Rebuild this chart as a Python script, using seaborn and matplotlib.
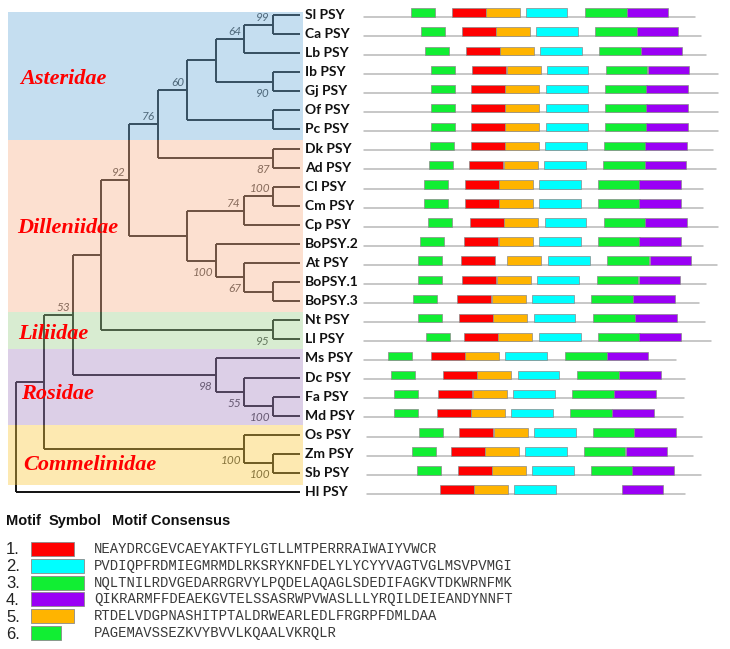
import numpy as np
import matplotlib
matplotlib.use("Agg")
import matplotlib.pyplot as plt
import seaborn as sns
from matplotlib.colors import to_rgb

sns.set_theme(style="white")
plt.rcParams['font.family'] = ['DejaVu Sans']

# ---------------- data ----------------
leaves = ["Sl PSY", "Ca PSY", "Lb PSY", "Ib PSY", "Gj PSY", "Of PSY", "Pc PSY",
          "Dk PSY", "Ad PSY", "Cl PSY", "Cm PSY", "Cp PSY", "BoPSY.2", "At PSY",
          "BoPSY.1", "BoPSY.3", "Nt PSY", "Ll PSY", "Ms PSY", "Dc PSY", "Fa PSY",
          "Md PSY", "Os PSY", "Zm PSY", "Sb PSY", "Hl PSY"]

# internal nodes: name, children, node depth (tree x), bootstrap
node_names = ["SlCa", "n64", "IbGj", "A1", "OfPc", "n60", "DkAd", "n76",
              "ClCm", "n74", "Bo13", "n67", "n100b", "D", "n92", "NtLl", "L",
              "FaMd", "n55", "n98", "n53", "ZmSb", "nOs", "C", "root"]
node_children = [["Sl PSY", "Ca PSY"], ["SlCa", "Lb PSY"], ["Ib PSY", "Gj PSY"],
                 ["n64", "IbGj"], ["Of PSY", "Pc PSY"], ["A1", "OfPc"],
                 ["Dk PSY", "Ad PSY"], ["n60", "DkAd"], ["Cl PSY", "Cm PSY"],
                 ["ClCm", "Cp PSY"], ["BoPSY.1", "BoPSY.3"], ["At PSY", "Bo13"],
                 ["BoPSY.2", "n67"], ["n74", "n100b"], ["n76", "D"],
                 ["Nt PSY", "Ll PSY"], ["n92", "NtLl"], ["Fa PSY", "Md PSY"],
                 ["Dc PSY", "FaMd"], ["Ms PSY", "n55"], ["L", "n98"],
                 ["Zm PSY", "Sb PSY"], ["Os PSY", "ZmSb"], ["n53", "nOs"],
                 ["C", "Hl PSY"]]
node_depth = [273, 244, 273, 216, 273, 187, 273, 158, 273, 244, 273, 244, 216,
              187, 129, 273, 101, 273, 244, 216, 73, 273, 244, 44, 16]
node_boot = [99, 64, 90, None, None, 60, 87, 76, 100, 74, None, 67, 100, None,
             92, 95, None, 100, 55, 98, 53, 100, 100, None, None]
boot_below = {"IbGj", "DkAd", "n100b", "n67", "NtLl", "n98", "n55", "FaMd",
              "nOs", "ZmSb"}
leaf_depth = 300

clade_names = ["Asteridae", "Dilleniidae", "Liliidae", "Rosidae", "Commelinidae"]
clade_colors = ["#c5def0", "#fce0d0", "#d8ecd2", "#dccfe8", "#fdeab2"]

# motif consensus sequences (1..6)
consensus = ["NEAYDRCGEVCAEYAKTFYLGTLLMTPERRRAIWAIYVWCR",
             "PVDIQPFRDMIEGMRMDLRKSRYKNFDELYLYCYYVAGTVGLMSVPVMGI",
             "NQLTNILRDVGEDARRGRVYLPQDELAQAGLSDEDIFAGKVTDKWRNFMK",
             "QIKRARMFFDEAEKGVTELSSASRWPVWASLLLYRQILDEIEANDYNNFT",
             "RTDELVDGPNASHITPTALDRWEARLEDLFRGRPFDMLDAA",
             "PAGEMAVSSEZKVYBVVLKQAALVKRQLR"]
motif_colors = ["#ff0000", "#00ffff", "#11ee33", "#9a00f5", "#ffb400", "#11ee33"]

nan = np.nan
# motif start positions in the diagram panel, per leaf (motifs 1..6)
m1_start = [451.7, 461.7, 465.7, 472.3, 471.3, 471.3, 471.3, 470.7, 469.3, 464.7, 464.7, 469.7, 464.3,
            460.7, 462.3, 457.3, 458.7, 464, 430.7, 443.3, 438, 436.7, 459.3, 450.7, 458, 440]
m2_start = [525.7, 536, 540, 546.7, 546, 546, 546, 545, 544, 539.3, 539.3, 544.7, 539,
            548.3, 537.3, 532, 533.7, 539, 505.3, 517.7, 513.3, 511.3, 534, 525.3, 532, 514]
m3_start = [585, 595, 599, 605.7, 605, 605, 605, 604, 603.3, 598, 598, 603.7, 598,
            607.3, 596.7, 591, 593, 598, 565, 577, 572.3, 570, 592.7, 583.7, 591, nan]
m4_start = [626.7, 636.7, 640.7, 647.7, 646.3, 646.3, 646.3, 645.3, 644.7, 639, 639, 645.3, 639.3,
            649.7, 638.7, 633.3, 635, 639.3, 606.7, 619.3, 614, 612, 634.3, 625.7, 632.3, 621.7]
m5_start = [485.7, 496, 500, 506.7, 505.3, 505.3, 505.3, 504.7, 504, 499, 499, 504.3, 498.7,
            507.3, 496.7, 491.7, 493.3, 498, 465.3, 477.3, 472.7, 471, 494, 484.7, 492, 474]
m6_start = [410.7, 420.7, 424.7, 431.3, 430.7, 430.7, 430.7, 430, 429, 424, 424, 428.3, 420,
            417.7, 418.3, 413.3, 417.7, 426, 388.3, 391.3, 394, 394, 419.3, 411.7, 416.7, nan]
seq_start = [364, 364, 364, 364, 364, 364, 364, 364, 364, 364, 364, 364, 364,
             364, 364, 364, 364, 364, 364, 364, 364, 364, 367, 367, 367, 367]
seq_end = [695, 701, 706, 718, 718, 718, 718, 713, 715.7, 703, 702.7, 718, 703.3,
           716.7, 706, 699, 705, 711, 676, 685, 684.3, 683.3, 702.3, 693.3, 701, 685]

# ---------------- layout ----------------
fig = plt.figure(figsize=(7.30, 6.49), dpi=100)
ax = fig.add_axes([0, 0, 1, 1])
ax.set_xlim(0, 730)
ax.set_ylim(649, 0)
ax.axis("off")

row0, row_step = 15.0, 19.08
ypos = {name: row0 + i * row_step for i, name in enumerate(leaves)}
xpos = {name: leaf_depth for name in leaves}
line_kw = dict(color="#111111", lw=1.4, solid_capstyle="butt", zorder=1)

for name, ch, d, b in zip(node_names, node_children, node_depth, node_boot):
    ys = [ypos[c] for c in ch]
    ypos[name] = np.mean(ys)
    xpos[name] = d
    ax.plot([d, d], [min(ys), max(ys)], **line_kw)
    for c in ch:
        ax.plot([d, xpos[c]], [ypos[c], ypos[c]], **line_kw)
    if b is not None:
        dy = 11.5 if name in boot_below else -7.5
        ax.text(d - 3, ypos[name] + dy, str(b), ha="right", va="center",
                fontsize=8.5, style="italic", family="Lato", color="#3c3c3c", zorder=1)

# clade bands (drawn translucent over the tree lines)
band_edges = [12, 139.5, 311.5, 349, 425, 485]
alpha = 0.4
for k, (nm, col) in enumerate(zip(clade_names, clade_colors)):
    t = np.array(to_rgb(col))
    over = np.clip(1 - (1 - t) / alpha, 0, 1)
    ax.fill_between([8, 303], band_edges[k], band_edges[k + 1], color=over,
                    alpha=alpha, lw=0, zorder=2)

clade_text_pos = [(20, 84), (17, 233), (18, 339), (21, 399), (23, 470)]
for nm, (tx, ty) in zip(clade_names, clade_text_pos):
    ax.text(tx, ty, nm, family="Liberation Serif", weight="bold", style="italic",
            fontsize=16, color="#ff0000", va="baseline", ha="left", zorder=3)

# leaf labels
for name in leaves:
    ax.text(305, ypos[name], name, family="Lato", weight="bold", fontsize=10,
            color="#111111", va="center", ha="left", zorder=3)

# motif diagrams
panel_scale = 0.83
starts = [m1_start, m2_start, m3_start, m4_start, m5_start, m6_start]
row_y = np.array([ypos[n] for n in leaves])
for i in range(len(leaves)):
    ax.plot([seq_start[i], seq_end[i]], [row_y[i] + 1.8] * 2, color="#b8b8b8",
            lw=1.1, zorder=1)
for k in range(6):
    s = np.array(starts[k], dtype=float)
    ok = ~np.isnan(s)
    ax.barh(row_y[ok] - 2.4, np.full(ok.sum(), len(consensus[k]) * panel_scale),
            left=s[ok], height=8.4, color=motif_colors[k], edgecolor="#8a8a8a",
            linewidth=0.5, zorder=2)

# legend
for tx, s in [(6, "Motif"), (49, "Symbol"), (112, "Motif Consensus")]:
    ax.text(tx, 525, s, family="Liberation Sans", weight="bold", fontsize=10.5,
            va="baseline", ha="left", color="#111111")

leg_top, leg_step = 541.8, 16.85
leg_scale = 1.056
leg_y = leg_top + 7 + leg_step * np.arange(6)
ax.barh(leg_y, [len(c) * leg_scale for c in consensus], left=30.7, height=14,
        color=motif_colors, edgecolor="#8a8a8a", linewidth=0.6)
for k in range(6):
    ax.text(6, leg_y[k] + 5.5, f"{k + 1}.", family="Liberation Sans", fontsize=12,
            va="baseline", ha="left", color="#222222")
    ax.text(94.3, leg_y[k], consensus[k], family="Liberation Mono", fontsize=10,
            va="center", ha="left", color="#3a3a3a")

fig.savefig("out.png", dpi=100)
